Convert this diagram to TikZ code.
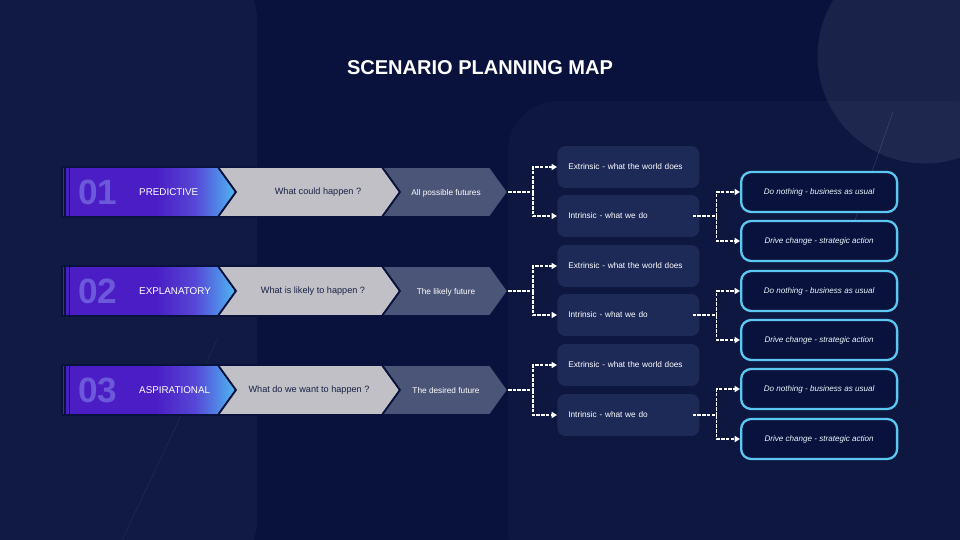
\documentclass[tikz,border=0pt]{standalone}
\usepackage{fontspec}
\setmainfont{Liberation Sans}
\usetikzlibrary{arrows.meta}

\definecolor{bgnavy}{HTML}{08123C}
\definecolor{purpA}{HTML}{4A1EC4}
\definecolor{purpB}{HTML}{5646D6}
\definecolor{skyA}{HTML}{4DB8F2}
\definecolor{chevgray}{HTML}{C0C0C6}
\definecolor{chevslate}{HTML}{4B5577}
\definecolor{boxnavy}{HTML}{1D2A58}
\definecolor{glow}{HTML}{5CC8F2}
\definecolor{inknavy}{HTML}{1A2146}
\definecolor{numpurp}{HTML}{6C58DA}

\pgfdeclarehorizontalshading{purpleshade}{100bp}{color(0bp)=(purpA); color(25bp)=(purpA); color(52bp)=(purpA); color(63bp)=(purpB); color(75bp)=(skyA); color(100bp)=(skyA)}

\begin{document}
\begin{tikzpicture}[x=0.02cm,y=-0.02cm,
    chev/.style={draw=bgnavy, line width=1pt},
    link/.style={draw=white, line width=0.8pt, dash pattern=on 2pt off 0.7pt,
      -{Triangle[length=3pt,width=3.4pt]}}]

        \useasboundingbox (0,0) rectangle (960,540);
        % backdrop
        \fill[bgnavy] (0,0) rectangle (960,540);
        \fill[white, opacity=.035, rounded corners=1.2cm] (-40,-40) rectangle (257,580);
        \fill[white, opacity=.025, rounded corners=1cm] (508,101) rectangle (1000,580);
        \fill[white, opacity=.07] (925,56) circle (2.15cm);
        \draw[white, opacity=.15, line width=.3pt] (893,112) -- (848,240);
        \draw[white, opacity=.07, line width=.3pt] (217,340) -- (122,540);

        \node[text=white, font=\bfseries\fontsize{11.4}{13}\selectfont] (title) at (480,68) {SCENARIO PLANNING MAP};

        % chevrons
        \shade[shading=purpleshade, chev] (62,167) -- (218,167) -- (236,192) -- (218,217) -- (62,217) -- cycle;
        \fill[chevgray, chev] (218,167) -- (382,167) -- (400,192) -- (382,217) -- (218,217) -- (236,192) -- cycle;
        \fill[chevslate, chev] (382,167) -- (490,167) -- (508,192) -- (490,217) -- (382,217) -- (400,192) -- cycle;

        \shade[shading=purpleshade, chev] (62,266) -- (218,266) -- (236,291) -- (218,316) -- (62,316) -- cycle;
        \fill[chevgray, chev] (218,266) -- (382,266) -- (400,291) -- (382,316) -- (218,316) -- (236,291) -- cycle;
        \fill[chevslate, chev] (382,266) -- (490,266) -- (508,291) -- (490,316) -- (382,316) -- (400,291) -- cycle;

        \shade[shading=purpleshade, chev] (62,365) -- (218,365) -- (236,390) -- (218,415) -- (62,415) -- cycle;
        \fill[chevgray, chev] (218,365) -- (382,365) -- (400,390) -- (382,415) -- (218,415) -- (236,390) -- cycle;
        \fill[chevslate, chev] (382,365) -- (490,365) -- (508,390) -- (490,415) -- (382,415) -- (400,390) -- cycle;

        \draw[bgnavy, line width=.7pt] (65,167) -- (65,217) (69.5,167) -- (69.5,217);
        \draw[bgnavy, line width=.7pt] (65,266) -- (65,316) (69.5,266) -- (69.5,316);
        \draw[bgnavy, line width=.7pt] (65,365) -- (65,415) (69.5,365) -- (69.5,415);

        \coordinate (t1) at (508,192);
        \coordinate (t2) at (508,291);
        \coordinate (t3) at (508,390);

        \begin{scope}[every node/.style={text=numpurp, font=\bfseries\fontsize{20}{22}\selectfont}]
          \node (n1) at (98,192) {01};
          \node (n2) at (98,291) {02};
          \node (n3) at (98,390) {03};
        \end{scope}

        \begin{scope}[every node/.style={anchor=west, text=white, font=\fontsize{5.6}{7}\selectfont}]
          \node (p1) at (133,192) {PREDICTIVE};
          \node (p2) at (133,291) {EXPLANATORY};
          \node (p3) at (133,390) {ASPIRATIONAL};
        \end{scope}

        \begin{scope}[every node/.style={text=inknavy, font=\fontsize{5.2}{7}\selectfont}]
          \node (q1) at (318,192) {What could happen ?};
          \node (q2) at (313,291) {What is likely to happen ?};
          \node (q3) at (309,390) {What do we want to happen ?};
        \end{scope}

        \begin{scope}[every node/.style={text=white, font=\fontsize{4.7}{6}\selectfont}]
          \node (f1) at (446,193) {All possible futures};
          \node (f2) at (446,292) {The likely future};
          \node (f3) at (446,391) {The desired future};
        \end{scope}

        % middle boxes
        \begin{scope}[every node/.style={anchor=west, fill=boxnavy, rounded corners=.16cm,
            text=white, font=\fontsize{4.7}{6}\selectfont, align=left, text width=2.4cm,
            inner xsep=.22cm, minimum height=.84cm}]
          \node (e1) at (557,167) {Extrinsic - what the world does};
          \node (i1) at (557,216) {Intrinsic - what we do};
          \node (e2) at (557,266) {Extrinsic - what the world does};
          \node (i2) at (557,315) {Intrinsic - what we do};
          \node (e3) at (557,365) {Extrinsic - what the world does};
          \node (i3) at (557,415) {Intrinsic - what we do};
        \end{scope}

        % outcome boxes
        \begin{scope}[every node/.style={anchor=west, draw=glow, line width=1.3pt, fill=bgnavy,
            rounded corners=.2cm, text=white!88!glow, align=center, minimum width=3.12cm,
            minimum height=.8cm, font=\itshape\fontsize{4.6}{6}\selectfont}]
          \node (c1) at (740,192) {Do nothing - business as usual};
          \node (d1) at (740,241) {Drive change - strategic action};
          \node (c2) at (740,291) {Do nothing - business as usual};
          \node (d2) at (740,340) {Drive change - strategic action};
          \node (c3) at (740,389) {Do nothing - business as usual};
          \node (d3) at (740,439) {Drive change - strategic action};
        \end{scope}

        \draw[link] (t1) -- ++(25,0) coordinate (k1) |- (e1.west);
        \draw[link] (k1) |- (i1.west);
        \draw[link] (t2) -- ++(25,0) coordinate (k2) |- (e2.west);
        \draw[link] (k2) |- (i2.west);
        \draw[link] (t3) -- ++(25,0) coordinate (k3) |- (e3.west);
        \draw[link] (k3) |- (i3.west);

        \draw[link] (i1.east) ++(-7,0) -- ++(24,0) coordinate (j1) |- (c1.west);
        \draw[link] (j1) |- (d1.west);
        \draw[link] (i2.east) ++(-7,0) -- ++(24,0) coordinate (j2) |- (c2.west);
        \draw[link] (j2) |- (d2.west);
        \draw[link] (i3.east) ++(-7,0) -- ++(24,0) coordinate (j3) |- (c3.west);
        \draw[link] (j3) |- (d3.west);

      \end{tikzpicture}
\end{document}
